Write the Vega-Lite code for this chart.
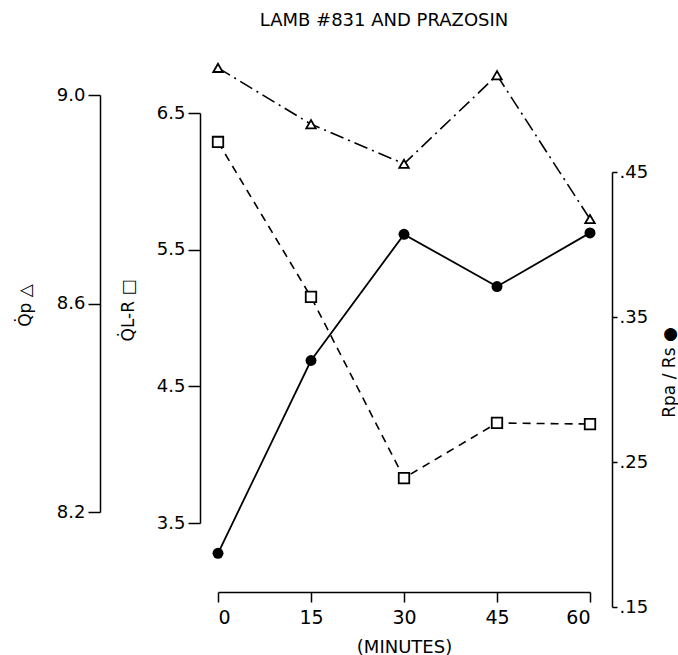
{
  "$schema": "https://vega.github.io/schema/vega-lite/v6.json",
  "autosize": {"type": "none"},
  "width": 372,
  "height": 542,
  "padding": {"left": 218, "top": 50, "right": 88, "bottom": 63},
  "background": "white",
  "config": {
    "view": {"stroke": null},
    "font": "DejaVu Sans",
    "axis": {
      "grid": false,
      "domainColor": "black",
      "tickColor": "black",
      "labelColor": "black",
      "titleColor": "black",
      "labelFontSize": 18,
      "titleFontSize": 17,
      "titleFontWeight": "normal",
      "domainWidth": 1.5,
      "tickWidth": 1.5
    }
  },
  "title": {"text": "LAMB #831 AND PRAZOSIN", "fontSize": 18, "fontWeight": "normal", "anchor": "middle", "dx": -20, "offset": 20, "color": "black"},
  "data": {
    "values": [
      {"minutes": 0, "qp": 9.052, "qlr": 6.288, "rpa": 0.187},
      {"minutes": 15, "qp": 8.944, "qlr": 5.154, "rpa": 0.320},
      {"minutes": 30, "qp": 8.868, "qlr": 3.829, "rpa": 0.407},
      {"minutes": 45, "qp": 9.038, "qlr": 4.232, "rpa": 0.371},
      {"minutes": 60, "qp": 8.762, "qlr": 4.224, "rpa": 0.408}
    ]
  },
  "encoding": {
    "x": {
      "field": "minutes",
      "type": "quantitative",
      "scale": {"domain": [0, 60], "nice": false, "zero": false},
      "axis": {"values": [0, 15, 30, 45, 60], "title": "(MINUTES)", "tickSize": 10, "labelPadding": 6, "titlePadding": 11, "labelFontSize": 19, "titleFontSize": 18}
    }
  },
  "layer": [
    {
      "encoding": {
        "y": {
          "field": "qp",
          "type": "quantitative",
          "scale": {"domain": [8.2, 9.0], "range": [462, 45], "nice": false, "zero": false},
          "axis": {"orient": "left", "offset": 118, "values": [8.2, 8.6, 9.0], "format": ".1f", "tickSize": 12, "labelPadding": 3, "title": "Q̇p △", "titleX": -75, "titleY": 255, "titleBaseline": "middle", "titleAlign": "center", "titleAngle": 270}
        }
      },
      "layer": [
        {"mark": {"type": "line", "color": "black", "strokeWidth": 1.6, "strokeDash": [14, 5, 2, 5]}},
        {"mark": {"type": "point", "shape": "triangle-up", "filled": true, "fill": "white", "stroke": "black", "strokeWidth": 1.8, "size": 90, "opacity": 1}}
      ]
    },
    {
      "encoding": {
        "y": {
          "field": "qlr",
          "type": "quantitative",
          "scale": {"domain": [3.5, 6.5], "range": [473, 63], "nice": false, "zero": false},
          "axis": {"orient": "left", "offset": 18, "values": [3.5, 4.5, 5.5, 6.5], "format": ".1f", "tickSize": 12, "labelPadding": 3, "title": "Q̇L-R □", "titleX": -72, "titleY": 260, "titleBaseline": "middle", "titleAlign": "center", "titleAngle": 270}
        }
      },
      "layer": [
        {"mark": {"type": "line", "color": "black", "strokeWidth": 1.6, "strokeDash": [8, 6]}},
        {"mark": {"type": "point", "shape": "square", "filled": true, "fill": "white", "stroke": "black", "strokeWidth": 1.8, "size": 110, "opacity": 1}}
      ]
    },
    {
      "encoding": {
        "y": {
          "field": "rpa",
          "type": "quantitative",
          "scale": {"domain": [0.15, 0.45], "range": [557, 122], "nice": false, "zero": false},
          "axis": {"orient": "right", "offset": 22, "values": [0.15, 0.25, 0.35, 0.45], "labelExpr": "replace(format(datum.value, '.2f'), '0.', '.')", "tickSize": 5, "labelPadding": 2, "title": "Rpa / Rs ●", "titleX": 57, "titleY": 322, "titleBaseline": "middle", "titleAlign": "center", "titleAngle": 270}
        }
      },
      "layer": [
        {"mark": {"type": "line", "color": "black", "strokeWidth": 1.8}},
        {"mark": {"type": "point", "shape": "circle", "filled": true, "color": "black", "size": 120, "opacity": 1}}
      ]
    }
  ],
  "resolve": {"scale": {"y": "independent"}}
}
